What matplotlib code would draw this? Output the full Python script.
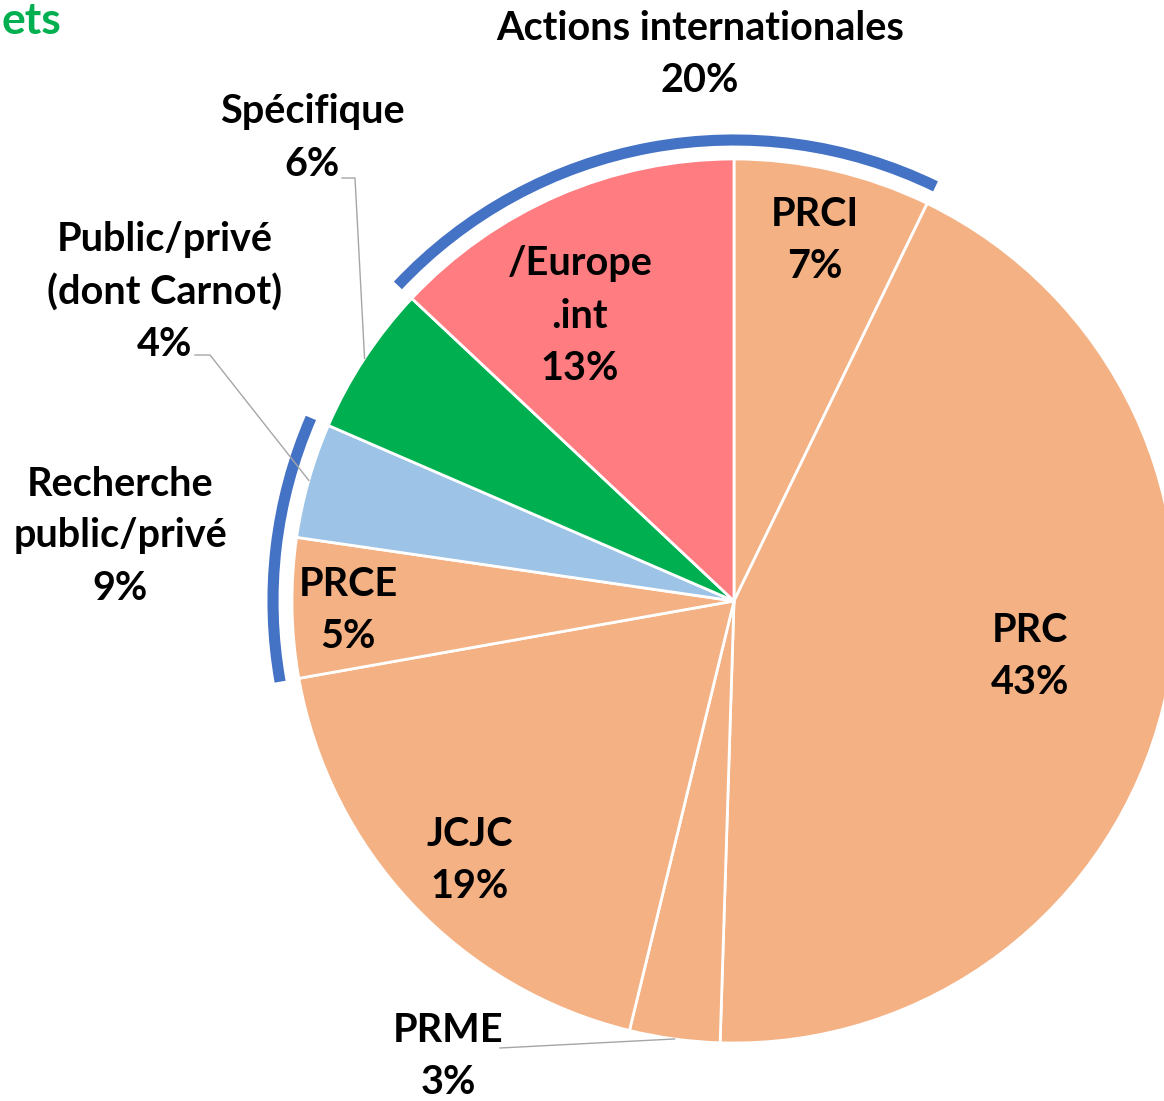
import numpy as np
import matplotlib
matplotlib.use("Agg")
import matplotlib.pyplot as plt
from matplotlib.patches import Arc

# slice shares (clockwise from the top) and their printed labels
names = ["PRCI", "PRC", "PRME", "JCJC", "PRCE", "Public/privé\n(dont Carnot)", "Spécifique", "/Europe\n.int"]
shares = [7.2, 43.3, 3.3, 18.4, 5.1, 4.2, 5.5, 13.0]
shown = ["7%", "43%", "3%", "19%", "5%", "4%", "6%", "13%"]
colors = ["#F4B183", "#F4B183", "#F4B183", "#F4B183", "#F4B183", "#9DC3E6", "#00B050", "#FF7C80"]

# groups marked with a blue arc: (first slice, last slice, title)
groups = [(7, 0, "Actions internationales\n20%"), (4, 5, "Recherche\npublic/privé\n9%")]

W, H = 1164, 1101
fig = plt.figure(figsize=(W / 100, H / 100), dpi=100)
ax = fig.add_axes([0, 0, 1, 1])

cx, cy, R = 734, 500, 442
ax.pie(shares, colors=colors, startangle=90, counterclock=False, center=(cx, cy), radius=R,
       wedgeprops=dict(edgecolor="white", linewidth=2))
ax.set_xlim(0, W)
ax.set_ylim(0, H)
ax.set_aspect("equal")
ax.axis("off")

cum = np.cumsum([0] + shares) / sum(shares)


def ang(frac):
    return 90 - 360 * frac


def edge(frac, r=R):
    a = np.radians(ang(frac))
    return cx + r * np.cos(a), cy + r * np.sin(a)


for first, last, _ in groups:
    t1 = ang(cum[last + 1])
    t2 = ang(cum[first])
    if t2 < t1:
        t2 += 360
    ax.add_patch(Arc((cx, cy), 2 * 461, 2 * 461, theta1=t1, theta2=t2,
                     color="#4472C4", linewidth=8, capstyle="butt"))

font = dict(family="Lato", fontweight="bold", fontsize=28.5, color="black",
            ha="center", va="center", linespacing=1.5)


def py(y):
    return H - y


# labels inside slices
inside = {0: (815, 241), 1: (1030, 656), 3: (470, 860), 4: (348, 610), 7: (580, 316)}
for i, (x, y) in inside.items():
    ax.text(x, py(y), names[i] + "\n" + shown[i], **font)

# labels outside with leader lines
outside = {6: ((312, 138), [(342, 178), (355, 178)]),
           5: ((165, 292), [(195, 355), (210, 355)]),
           2: ((448, 1057), [(500, 1048)])}
for i, ((x, y), pts) in outside.items():
    ax.text(x, py(y), names[i] + "\n" + shown[i], **font)
    ex, ey = edge((cum[i] + cum[i + 1]) / 2)
    xs = [p[0] for p in pts] + [ex]
    ys = [py(p[1]) for p in pts] + [ey]
    ax.plot(xs, ys, color="#A6A6A6", linewidth=1)

# group titles
ax.text(700, py(55), groups[0][2], **font)
ax.text(120, py(536), groups[1][2], **font)

# cut-off title at the top left
ax.text(2, py(21), "ets", family="Lato", fontweight="bold", fontsize=32,
        color="#00B050", ha="left", va="center")

fig.savefig("out.png", dpi=100)
